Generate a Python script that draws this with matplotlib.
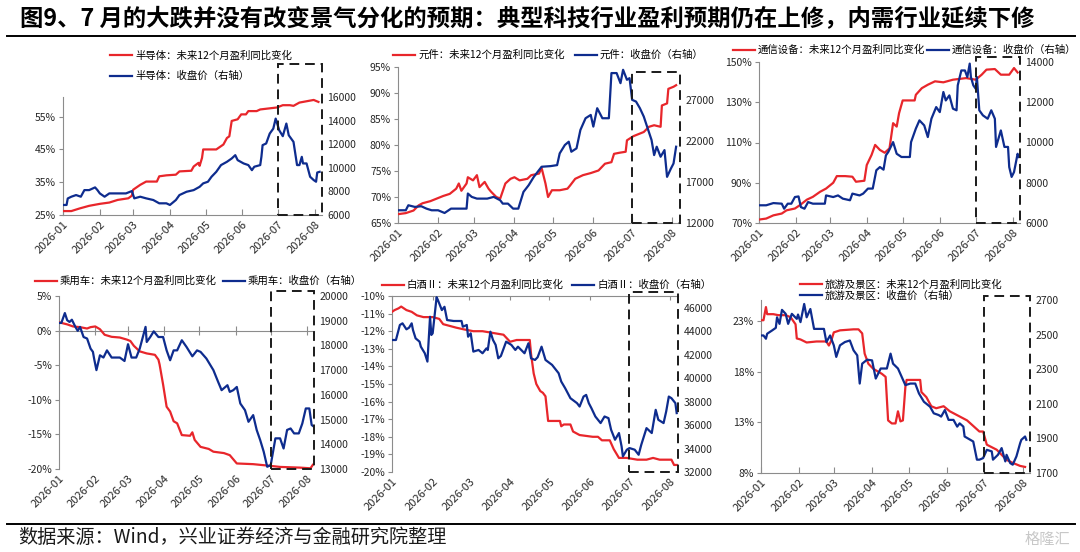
import pandas as pd
import matplotlib.pyplot as plt
import matplotlib.dates as mdates
from matplotlib.patches import Rectangle
from matplotlib.lines import Line2D
from matplotlib.ticker import FuncFormatter

plt.rcParams['font.family'] = ['Noto Sans CJK SC', 'DejaVu Sans']

# ---- data: day offsets from 2026-01-01 and values ----
# 半导体
semi_eps_d = [0, 7, 14, 22, 31, 39, 46, 55, 58, 59, 65, 70, 79, 81, 87, 95, 98, 108, 110, 114, 115,
              117, 118, 129, 135, 138, 140, 142, 147, 150, 154, 156, 163, 166, 180, 185, 191, 194, 199, 211, 215]
semi_eps = [26.2, 26.2, 27.0, 27.8, 28.4, 28.8, 29.6, 30.1, 30.9, 32.7, 34.2, 35.2, 35.2, 36.8, 37.1, 37.3,
            38.3, 38.5, 39.8, 40.9, 40.0, 42.4, 45.0, 45.0, 46.5, 48.5, 49.0, 53.7, 54.2, 55.7, 55.7, 56.7,
            56.7, 57.2, 57.8, 58.5, 58.5, 58.3, 59.3, 60.1, 59.5]
semi_px_d = [0, 3, 4, 7, 11, 15, 18, 22, 27, 29, 31, 35, 39, 53, 58, 60, 65, 70, 76, 81, 87, 90, 95, 98,
             104, 110, 115, 118, 122, 125, 129, 133, 138, 142, 145, 147, 152, 156, 159, 161, 166, 167, 168,
             171, 174, 177, 179, 182, 185, 188, 190, 194, 197, 199, 201, 202, 205, 208, 211, 213, 214, 216]
semi_px = [6850, 6850, 7400, 7550, 7690, 7550, 8110, 8110, 8340, 8110, 7830, 7550, 7830, 7830, 8030, 7410,
           7550, 7410, 7270, 6990, 6990, 6850, 7270, 7690, 7970, 8110, 8390, 8680, 8820, 9240, 9660, 10230,
           10510, 10790, 11070, 10650, 10370, 10230, 9800, 10090, 10230, 10930, 11920, 12060, 12900, 13320,
           14170, 13180, 12680, 13750, 12760, 12200, 10230, 10230, 10930, 10370, 10370, 9240, 8960, 8820,
           9600, 9660]

# 元件
comp_eps_d = [0, 6, 12, 16, 19, 25, 28, 35, 40, 45, 47, 49, 53, 54, 58, 61, 63, 67, 70, 72, 76, 79, 83, 87,
              90, 94, 100, 103, 109, 111, 114, 116, 119, 125, 131, 133, 137, 143, 149, 155, 160, 165, 167,
              171, 176, 177, 182, 190, 194, 198, 203, 204, 208, 209, 213, 215]
comp_eps = [66.7, 66.9, 67.4, 68.4, 68.8, 69.2, 69.5, 70.2, 70.6, 71.6, 72.6, 71.2, 72.6, 73.8, 73.2, 74.2,
            71.9, 72.9, 71.6, 71.0, 70.0, 69.7, 72.6, 73.5, 73.8, 73.2, 73.5, 74.2, 74.5, 75.6, 72.6, 70.0,
            71.3, 71.3, 71.6, 72.2, 73.5, 74.2, 74.6, 75.1, 76.4, 76.7, 78.3, 78.5, 78.7, 80.9, 81.7, 82.5,
            83.5, 83.8, 83.5, 87.6, 88.0, 90.8, 91.2, 91.5]
comp_px_d = [0, 6, 8, 13, 18, 22, 26, 31, 36, 41, 53, 54, 57, 61, 69, 74, 79, 81, 85, 89, 93, 97, 101, 105,
             109, 111, 118, 123, 125, 129, 132, 134, 138, 141, 145, 149, 151, 154, 158, 163, 165, 169, 172,
             174, 177, 179, 181, 184, 187, 190, 193, 196, 198, 200, 203, 206, 208, 211, 213, 215]
comp_px = [13550, 13550, 14160, 13960, 14040, 13750, 13550, 13550, 13220, 13750, 13750, 15590, 15180, 14970,
           14970, 15180, 14770, 14360, 14360, 13750, 13750, 15790, 16600, 17620, 18440, 18850, 18930, 19050,
           20480, 21500, 21900, 20680, 21090, 23330, 24760, 25160, 23740, 25980, 24760, 24760, 30260, 30260,
           29030, 30660, 29440, 29640, 27000, 26790, 25980, 24960, 23530, 22110, 20270, 21290, 20070, 20880,
           17620, 18640, 19250, 21290]

# 通信设备
comm_eps_d = [0, 6, 12, 19, 23, 30, 34, 40, 45, 51, 56, 62, 65, 72, 78, 81, 88, 90, 94, 97, 101, 105, 109,
              112, 115, 117, 120, 130, 131, 136, 141, 147, 154, 162, 173, 181, 186, 190, 197, 202, 209, 213, 216]
comm_eps = [71.7, 72.2, 73.8, 74.7, 76.3, 77.2, 78.8, 81.6, 83.0, 85.5, 87.1, 90.0, 93.3, 93.3, 93.0, 90.5,
            91.0, 98.8, 103.8, 108.8, 106.3, 104.9, 107.1, 119.6, 117.9, 124.6, 130.9, 130.9, 133.7, 137.0,
            138.7, 140.4, 139.9, 141.2, 142.0, 141.2, 143.7, 146.2, 146.5, 143.7, 143.7, 147.0, 144.8]
comm_px_d = [0, 6, 12, 19, 21, 24, 27, 30, 33, 35, 38, 41, 45, 55, 56, 62, 66, 70, 76, 78, 84, 87, 91, 95,
             98, 101, 104, 106, 108, 112, 115, 119, 126, 127, 131, 134, 138, 141, 144, 148, 151, 154, 156,
             159, 162, 165, 166, 169, 172, 174, 176, 177, 179, 181, 182, 184, 187, 191, 194, 197, 198, 202,
             205, 208, 209, 211, 213, 216, 217]
comm_px = [6880, 6880, 6990, 6960, 6710, 6960, 6960, 7290, 7320, 6790, 6710, 7040, 6960, 6960, 7370, 7290,
           7370, 7210, 7130, 7460, 7370, 7460, 7710, 7710, 8620, 8780, 8650, 9360, 9530, 10020, 9440, 9280,
           9280, 10020, 10690, 11100, 10850, 10270, 11180, 11760, 11510, 12510, 12090, 12340, 11680, 11600,
           12840, 13580, 13580, 13250, 13920, 13250, 12840, 12670, 13250, 11600, 11350, 11180, 11600, 11180,
           9780, 10600, 9780, 9780, 8780, 8290, 8530, 9440, 9280]

# 乘用车
car_eps_d = [0, 7, 12, 18, 24, 27, 31, 35, 39, 45, 52, 58, 61, 64, 69, 75, 82, 85, 86, 89, 92, 95, 98, 101,
             105, 112, 114, 116, 121, 128, 132, 141, 146, 152, 166, 178, 189, 206, 215, 217]
car_eps = [1.2, 0.9, 0.6, 0.5, 0.3, 0.5, 0.6, 0.2, -0.6, -0.9, -1.0, -1.3, -1.5, -2.2, -3.0, -3.3, -3.5,
           -4.2, -4.9, -7.8, -11.0, -11.7, -13.1, -13.4, -15.1, -15.2, -14.7, -15.8, -16.8, -17.1, -17.5,
           -17.7, -18.0, -19.2, -19.3, -19.5, -19.7, -19.8, -19.9, -19.4]
car_px_d = [0, 2, 5, 7, 9, 11, 14, 16, 18, 21, 24, 27, 29, 30, 32, 35, 38, 41, 45, 52, 56, 59, 62, 66, 69,
            74, 75, 78, 81, 85, 89, 92, 95, 98, 101, 105, 109, 114, 118, 121, 126, 132, 136, 139, 144, 146,
            149, 152, 155, 159, 162, 166, 169, 172, 175, 178, 181, 183, 185, 189, 192, 195, 198, 201, 205,
            208, 211, 214, 216, 218]
car_px = [18910, 18910, 19310, 19020, 18950, 19040, 18750, 18590, 18750, 18340, 18280, 17870, 17740, 17470,
          17000, 17600, 17510, 17800, 17510, 17510, 17370, 18050, 17510, 17510, 17870, 18750, 18140, 18340,
          18570, 18340, 18340, 17800, 17400, 17800, 17800, 18210, 17940, 17560, 17800, 17740, 17470, 17000,
          16530, 16190, 16390, 16120, 16190, 16320, 15650, 15380, 14910, 15180, 14580, 14170, 13700, 13090,
          13160, 13700, 14240, 14240, 13830, 14580, 14640, 14440, 14440, 14840, 15450, 15450, 14780, 14710]

# 白酒Ⅱ
liq_eps_d = [0, 2, 5, 7, 11, 15, 19, 24, 31, 36, 39, 44, 49, 55, 62, 69, 77, 85, 90, 95, 105, 106, 108, 110,
             113, 115, 117, 119, 128, 129, 131, 136, 138, 143, 153, 157, 160, 166, 169, 173, 179, 187, 194,
             199, 204, 213, 215, 217]
liq_eps = [-10.9, -10.8, -10.7, -10.6, -10.8, -10.9, -11.1, -11.2, -11.2, -11.3, -11.6, -11.7, -11.8, -11.9,
           -12.0, -12.0, -12.1, -12.2, -12.6, -12.5, -12.5, -13.3, -14.4, -15.0, -15.4, -15.5, -15.7, -17.1,
           -17.1, -17.4, -17.3, -17.3, -17.7, -17.9, -18.0, -18.0, -18.2, -18.2, -18.7, -19.2, -19.2, -19.3,
           -19.3, -19.2, -19.3, -19.3, -19.6, -19.6]
liq_px_d = [0, 3, 6, 8, 11, 13, 15, 16, 18, 21, 22, 25, 27, 29, 30, 31, 34, 35, 38, 40, 42, 47, 53, 54, 57,
            58, 60, 62, 66, 69, 72, 73, 75, 77, 79, 81, 83, 87, 91, 94, 96, 101, 104, 106, 109, 111, 114, 117,
            122, 127, 129, 132, 136, 141, 143, 146, 148, 150, 152, 155, 159, 162, 165, 167, 170, 173, 175,
            176, 179, 181, 185, 188, 190, 194, 198, 201, 203, 207, 209, 211, 213, 216, 217]
liq_px = [43250, 43250, 44530, 44670, 44160, 44300, 44670, 44100, 43390, 43110, 42680, 42120, 41410, 45230,
          43680, 43820, 46900, 46650, 45800, 46080, 44950, 44870, 44870, 44380, 44530, 43530, 43820, 42260,
          42400, 42120, 42540, 42400, 43960, 43250, 42830, 41690, 41890, 43110, 42830, 42400, 42680, 42120,
          42970, 41690, 41550, 41780, 42680, 41550, 41130, 40420, 39710, 39140, 38290, 37870, 37580, 38430,
          38570, 37870, 37440, 36730, 36170, 36730, 36590, 35600, 34750, 35320, 34180, 33330, 33900, 34040,
          33900, 33470, 34320, 35740, 35320, 37300, 36450, 36170, 37160, 38430, 38290, 37870, 37020]

# 旅游及景区
tour_eps_d = [0, 2, 4, 5, 10, 14, 20, 24, 28, 29, 32, 37, 45, 53, 55, 57, 59, 64, 75, 79, 82, 84, 87, 91, 98,
              101, 103, 106, 109, 111, 113, 115, 117, 118, 129, 130, 134, 138, 142, 148, 153, 167, 177, 180,
              183, 191, 199, 204, 210, 214]
tour_eps = [23.1, 23.1, 24.4, 23.7, 23.7, 23.6, 23.6, 23.4, 22.7, 21.3, 21.2, 20.9, 21.0, 21.0, 20.6, 21.1,
            21.9, 22.1, 22.2, 22.2, 21.8, 19.8, 18.8, 18.3, 17.8, 17.5, 13.2, 12.9, 12.9, 14.1, 13.1, 13.2,
            16.5, 17.2, 17.2, 16.0, 15.5, 14.6, 14.4, 14.6, 14.1, 13.2, 12.1, 12.1, 10.8, 10.3, 9.3, 9.0,
            8.7, 8.6]
tour_px_d = [0, 2, 4, 5, 9, 12, 13, 15, 17, 20, 22, 25, 29, 30, 32, 35, 37, 40, 43, 51, 53, 56, 59, 61, 64,
             68, 72, 75, 78, 80, 82, 86, 90, 93, 97, 102, 105, 107, 111, 114, 117, 121, 125, 128, 132, 137,
             140, 144, 146, 149, 152, 156, 159, 161, 164, 165, 172, 175, 177, 180, 183, 187, 188, 192, 195,
             198, 199, 202, 204, 207, 210, 211, 214, 215]
tour_px = [2495, 2495, 2476, 2505, 2524, 2539, 2600, 2562, 2643, 2620, 2562, 2620, 2591, 2616, 2572, 2677,
           2600, 2648, 2533, 2533, 2457, 2495, 2438, 2371, 2438, 2457, 2466, 2409, 2380, 2217, 2332, 2355,
           2351, 2246, 2304, 2304, 2390, 2332, 2304, 2256, 2208, 2217, 2217, 2160, 2112, 2083, 2045, 2035,
           2026, 2064, 2007, 2007, 1968, 1987, 1968, 1911, 1882, 1777, 1777, 1786, 1834, 1825, 1777, 1805,
           1844, 1767, 1805, 1757, 1748, 1796, 1872, 1892, 1911, 1892]

# ---- styling / layout ----
W, H = 1080, 552
RED = '#E8262B'
BLUE = '#0E2C8E'
AXC = '#8c8c8c'
TXT = '#262626'
FS = 7.5
BASE = pd.Timestamp('2026-01-01')
END = BASE + pd.Timedelta(days=218)
BOX_START = pd.Timestamp('2026-07-01')
MONTHS = pd.date_range('2026-01-01', '2026-08-01', freq='MS')


def to_dates(days):
    return BASE + pd.to_timedelta(days, unit='D')


def px_rect(l, r, t, b):
    return [l / W, 1 - b / H, (r - l) / W, (b - t) / H]


panels = [
    dict(name='半导体', eps=(semi_eps_d, semi_eps), px=(semi_px_d, semi_px), rect=(63, 322, 97, 215),
         ylim=(25, 61), yticks=[25, 35, 45, 55], ylim2=(6000, 16000), yticks2=range(6000, 16001, 2000),
         box_top=64, xaxis='bottom', leg=(110, 66), ncol=1, lsp=0.95, csp=1.0),
    dict(name='元件', eps=(comp_eps_d, comp_eps), px=(comp_px_d, comp_px), rect=(398, 680, 67, 223),
         ylim=(65, 95), yticks=range(65, 96, 5), ylim2=(12000, 31000), yticks2=range(12000, 27001, 5000),
         box_top=72, xaxis='bottom', leg=(393, 55), ncol=2, lsp=0.5, csp=1.0),
    dict(name='通信设备', eps=(comm_eps_d, comm_eps), px=(comm_px_d, comm_px), rect=(759, 1020, 62, 223),
         ylim=(70, 150), yticks=range(70, 151, 20), ylim2=(6000, 14000), yticks2=range(6000, 14001, 2000),
         box_top=57, xaxis='bottom', leg=(733, 50), ncol=2, lsp=0.5, csp=0.15),
    dict(name='乘用车', eps=(car_eps_d, car_eps), px=(car_px_d, car_px), rect=(59, 314, 296, 469),
         ylim=(-20, 5), yticks=range(-20, 6, 5), ylim2=(13000, 20000), yticks2=range(13000, 20001, 1000),
         box_top=291, xaxis='zero', leg=(35, 281), ncol=2, lsp=0.5, csp=0.6),
    dict(name='白酒Ⅱ', eps=(liq_eps_d, liq_eps), px=(liq_px_d, liq_px), rect=(392, 678, 296, 472),
         ylim=(-20, -10), yticks=range(-20, -9, 1), ylim2=(32000, 47000), yticks2=range(32000, 46001, 2000),
         box_top=292, xaxis='top', leg=(382, 285), ncol=2, lsp=0.5, csp=0.8),
    dict(name='旅游及景区', eps=(tour_eps_d, tour_eps), px=(tour_px_d, tour_px), rect=(761, 1030, 300, 473),
         ylim=(8, 25.1), yticks=[8, 13, 18, 23], ylim2=(1700, 2700), yticks2=range(1700, 2701, 200),
         box_top=296, xaxis='bottom', leg=(800, 290), ncol=1, lsp=0.1, csp=1.0),
]

fig = plt.figure(figsize=(W / 100, H / 100), dpi=100)
fig.patch.set_facecolor('white')

for p in panels:
    l, r, t, b = p['rect']
    ax = fig.add_axes(px_rect(l, r, t, b))
    ax2 = ax.twinx()

    ln1, = ax.plot(to_dates(p['eps'][0]), p['eps'][1], color=RED, lw=1.6, zorder=3)
    ln2, = ax2.plot(to_dates(p['px'][0]), p['px'][1], color=BLUE, lw=1.6, zorder=3)

    ax.set_xlim(BASE, END)
    ax.set_ylim(*p['ylim'])
    ax.set_yticks(list(p['yticks']))
    ax.yaxis.set_major_formatter(FuncFormatter(lambda v, pos: f'{v:.0f}%'))
    ax2.set_ylim(*p['ylim2'])
    ax2.set_yticks(list(p['yticks2']))
    ax2.yaxis.set_major_formatter(FuncFormatter(lambda v, pos: f'{v:.0f}'))

    ax.xaxis.set_major_locator(mdates.MonthLocator())
    ax.xaxis.set_major_formatter(mdates.DateFormatter('%Y-%m'))

    for s in ['top', 'right']:
        ax.spines[s].set_visible(False)
    for s in ax2.spines.values():
        s.set_visible(False)
    ax.spines['left'].set_color(AXC)
    ax.spines['left'].set_linewidth(0.8)
    ax.spines['bottom'].set_color(AXC)
    ax.spines['bottom'].set_linewidth(0.8)

    ax.tick_params(axis='y', direction='out', length=3, color=AXC, labelsize=FS, labelcolor=TXT, pad=2)
    ax2.tick_params(axis='y', length=0, labelsize=FS, labelcolor=TXT, pad=4)
    ax.tick_params(axis='x', direction='in', length=4, color=AXC, labelsize=8, labelcolor=TXT, pad=3)
    plt.setp(ax.get_xticklabels(), rotation=45, ha='right', rotation_mode='anchor')

    if p['xaxis'] != 'bottom':
        # category axis crosses at 0 (or at the top when all values are negative)
        ax.spines['bottom'].set_visible(False)
        ax.tick_params(axis='x', length=0)
        ymin, ymax = p['ylim']
        yloc = (0 - ymin) / (ymax - ymin) if p['xaxis'] == 'zero' else 1.0
        ax.axhline(0 if p['xaxis'] == 'zero' else ymax, color=AXC, lw=0.8, zorder=2, clip_on=False)
        half = 0.025
        ax.vlines(MONTHS, yloc - half, yloc + half if p['xaxis'] == 'zero' else yloc,
                  transform=ax.get_xaxis_transform(), color=AXC, lw=0.8, clip_on=False)

    # dashed box around July-August
    x0 = mdates.date2num(BOX_START)
    x1 = mdates.date2num(END)
    hfrac = (b - p['box_top']) / (b - t)
    ax2.add_patch(Rectangle((x0, 0), x1 - x0, hfrac, transform=ax2.get_xaxis_transform(),
                            fill=False, ec='#1a1a1a', lw=1.4, ls=(0, (5, 3)), clip_on=False, zorder=5))

    lx, ly = p['leg']
    ax2.legend([ln1, ln2], [p['name'] + '：未来12个月盈利同比变化', p['name'] + '：收盘价（右轴）'],
               loc='center left', bbox_to_anchor=(lx / W, 1 - ly / H), bbox_transform=fig.transFigure,
               ncol=p['ncol'], frameon=False, fontsize=FS, handlelength=2.1, handletextpad=0.3,
               columnspacing=p['csp'], labelspacing=p['lsp'], borderpad=0, borderaxespad=0)

# title, rules, source
fig.text(20 / W, 1 - 19 / H, '图9、7 月的大跌并没有改变景气分化的预期：典型科技行业盈利预期仍在上修，内需行业延续下修',
         fontsize=16.8, fontweight='bold', va='center', ha='left', color='black')
fig.add_artist(Line2D([7 / W, 1075 / W], [1 - 36 / H, 1 - 36 / H], color='black', lw=1.4))
fig.add_artist(Line2D([7 / W, 1075 / W], [1 - 524 / H, 1 - 524 / H], color='black', lw=1.4))
fig.text(18 / W, 1 - 537 / H, '数据来源：Wind，兴业证券经济与金融研究院整理', fontsize=13.8,
         va='center', ha='left', color='#1a1a1a')
fig.text(1070 / W, 1 - 539 / H, '格隆汇', fontsize=11, va='center', ha='right', color='#c8c8c8')

fig.savefig('out.png', dpi=100)
